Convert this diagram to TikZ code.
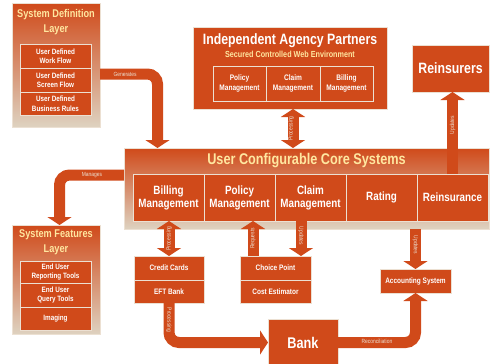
\documentclass[tikz,border=0pt]{standalone}
\usepackage{fontspec}
\setmainfont{Liberation Sans}[FakeStretch=0.82]
\usetikzlibrary{arrows.meta,calc}
\definecolor{org}{RGB}{208,74,26}
\definecolor{beige}{RGB}{222,210,192}
\definecolor{ttl}{RGB}{255,231,160}
\definecolor{edge}{RGB}{236,224,210}
\newcommand\fsz[2]{\fontsize{#1}{#2}\selectfont}
\begin{document}
\begin{tikzpicture}[x=1pt,y=-1pt,
  base/.style={inner sep=0pt, outer sep=0pt, anchor=north west, text=white, align=center},
  box/.style={base, fill=org, draw=edge, line width=0.7pt},
  gbox/.style={base, top color=org, bottom color=beige, draw=edge, line width=0.7pt},
  inbox/.style={base, fill=org, draw=edge, line width=0.6pt},
  ttlA/.style={text=ttl, align=center, inner sep=0pt, font=\bfseries\fsz{11.2}{15}},
  band/.style={draw=org, line width=11pt},
  tipE/.style={-{Triangle[width=24pt,length=8pt]}},
  tipB/.style={{Triangle[width=24pt,length=8pt]}-{Triangle[width=24pt,length=8pt]}},
  alab/.style={text=edge, inner sep=0pt, font=\fsz{6}{7}}
]
\useasboundingbox (0,0) rectangle (491,364);

% System Definition Layer
\node[gbox, minimum width=88pt, minimum height=124pt] (sdl) at (12,3) {};
\node[ttlA] (sdlt) at (56,22.5) {System Definition\\Layer};
\node[inbox, minimum width=71pt, minimum height=24pt, font=\bfseries\fsz{7.7}{9.5}] (sd1) at (20,44) {User Defined\\Work Flow};
\node[inbox, minimum width=71pt, minimum height=24pt, font=\bfseries\fsz{7.7}{9.5}] (sd2) at (20,68) {User Defined\\Screen Flow};
\node[inbox, minimum width=71pt, minimum height=23pt, font=\bfseries\fsz{7.7}{9.5}] (sd3) at (20,92) {User Defined\\Business Rules};

% Independent Agency Partners
\node[box, minimum width=194pt, minimum height=82pt] (iap) at (193,27) {};
\node[text=white, inner sep=0pt, font=\bfseries\fsz{15}{17}] (iapt) at (290,41) {Independent Agency Partners};
\node[text=ttl, inner sep=0pt, font=\bfseries\fsz{8.8}{10}] (iaps) at (290,54) {Secured Controlled Web Environment};
\node[inbox, minimum width=53pt, minimum height=35pt, font=\bfseries\fsz{8}{10}] (ia1) at (213,66) {Policy\\Management};
\node[inbox, minimum width=54pt, minimum height=35pt, font=\bfseries\fsz{8}{10}] (ia2) at (266,66) {Claim\\Management};
\node[inbox, minimum width=53pt, minimum height=35pt, font=\bfseries\fsz{8}{10}] (ia3) at (320,66) {Billing\\Management};

% Reinsurers
\node[box, minimum width=77pt, minimum height=47pt, font=\bfseries\fsz{15}{17}] (rein) at (412,45) {Reinsurers};

% Core
\node[gbox, minimum width=365pt, minimum height=81pt] (core) at (124,148) {};
\node[text=ttl, inner sep=0pt, font=\bfseries\fsz{15.5}{17}] (coret) at (306.5,161) {User Configurable Core Systems};
\node[inbox, minimum width=71pt, minimum height=47pt, font=\bfseries\fsz{12}{13}] (ci1) at (133,174) {Billing\\Management};
\node[inbox, minimum width=71pt, minimum height=47pt, font=\bfseries\fsz{12}{13}] (ci2) at (204,174) {Policy\\Management};
\node[inbox, minimum width=71pt, minimum height=47pt, font=\bfseries\fsz{12}{13}] (ci3) at (275,174) {Claim\\Management};
\node[inbox, minimum width=71pt, minimum height=47pt, font=\bfseries\fsz{12}{13}] (ci4) at (346,174) {Rating};
\node[inbox, minimum width=71pt, minimum height=47pt, font=\bfseries\fsz{12}{13}] (ci5) at (417,174) {Reinsurance};

% System Features Layer
\node[gbox, minimum width=88pt, minimum height=109pt] (sfl) at (12,225) {};
\node[ttlA] (sflt) at (56,242) {System Features\\Layer};
\node[inbox, minimum width=71pt, minimum height=22pt, font=\bfseries\fsz{7.7}{9.5}] (sf1) at (20,261) {End User\\Reporting Tools};
\node[inbox, minimum width=71pt, minimum height=24pt, font=\bfseries\fsz{7.7}{9.5}] (sf2) at (20,283) {End User\\Query Tools};
\node[inbox, minimum width=71pt, minimum height=23pt, font=\bfseries\fsz{7.7}{9.5}] (sf3) at (20,307) {Imaging};

% Lower boxes
\node[inbox, minimum width=70pt, minimum height=24pt, font=\bfseries\fsz{7.9}{9.5}] (cc1) at (134,256) {Credit Cards};
\node[inbox, minimum width=70pt, minimum height=23pt, font=\bfseries\fsz{7.9}{9.5}] (cc2) at (134,280) {EFT Bank};
\node[inbox, minimum width=71pt, minimum height=24pt, font=\bfseries\fsz{7.9}{9.5}] (cp1) at (240,256) {Choice Point};
\node[inbox, minimum width=71pt, minimum height=23pt, font=\bfseries\fsz{7.9}{9.5}] (cp2) at (240,280) {Cost Estimator};
\node[box, minimum width=70pt, minimum height=47pt, font=\bfseries\fsz{15.5}{17}] (bank) at (268,319) {Bank};
\node[box, minimum width=71pt, minimum height=24pt, font=\bfseries\fsz{7.9}{9.5}] (acc) at (380,269) {Accounting System};

% Connectors
\draw[band, tipE, rounded corners=10pt] ([yshift=-9pt]sdl.east) -| ([xshift=33.5pt]core.north west);
\node[alab] (lgen) at (125,74) {Generates};

\draw[band, tipB] (ia2.south |- iap.south) -- (ia2.south |- core.north);
\node[alab, rotate=90] (lp1) at (291,128.5) {Processing};

\draw[band, tipE] (ci5.north) -- (ci5.north |- rein.south);
\node[alab, rotate=90] (lup1) at (452.5,125) {Updates};

\draw[band, tipE, rounded corners=10pt] ([yshift=13.5pt]core.west) -| ([xshift=3.5pt]sfl.north);
\node[alab] (lman) at (92,175) {Manages};

\draw[band, tipB] (cc1.north) -- (cc1.north |- ci1.south);
\node[alab, rotate=90] (lp2) at (169,238.5) {Processing};

\draw[band, tipE] ([xshift=-22.5pt]cp1.north) -- ([xshift=-22.5pt]cp1.north |- ci2.south);
\node[alab, rotate=90] (lreq) at (253,238.5) {Requests};

\draw[band, tipE] ([xshift=25.5pt]cp1.north |- ci3.south) -- ([xshift=25.5pt]cp1.north);
\node[alab, rotate=-90] (lup2) at (301,236) {Updates};

\draw[band, tipE] (acc.north |- core.south) -- (acc.north);
\node[alab, rotate=-90] (lup3) at (415.5,245) {Updates};

\draw[band, tipE, rounded corners=10pt] (cc2.south) |- (bank.west);
\node[alab, rotate=-90] (lp3) at (169,320) {Processing};

\draw[band, tipE, rounded corners=10pt] (bank.east) -| (acc.south);
\node[alab] (lrec) at (377,341.5) {Reconciliation};
\end{tikzpicture}
\end{document}
